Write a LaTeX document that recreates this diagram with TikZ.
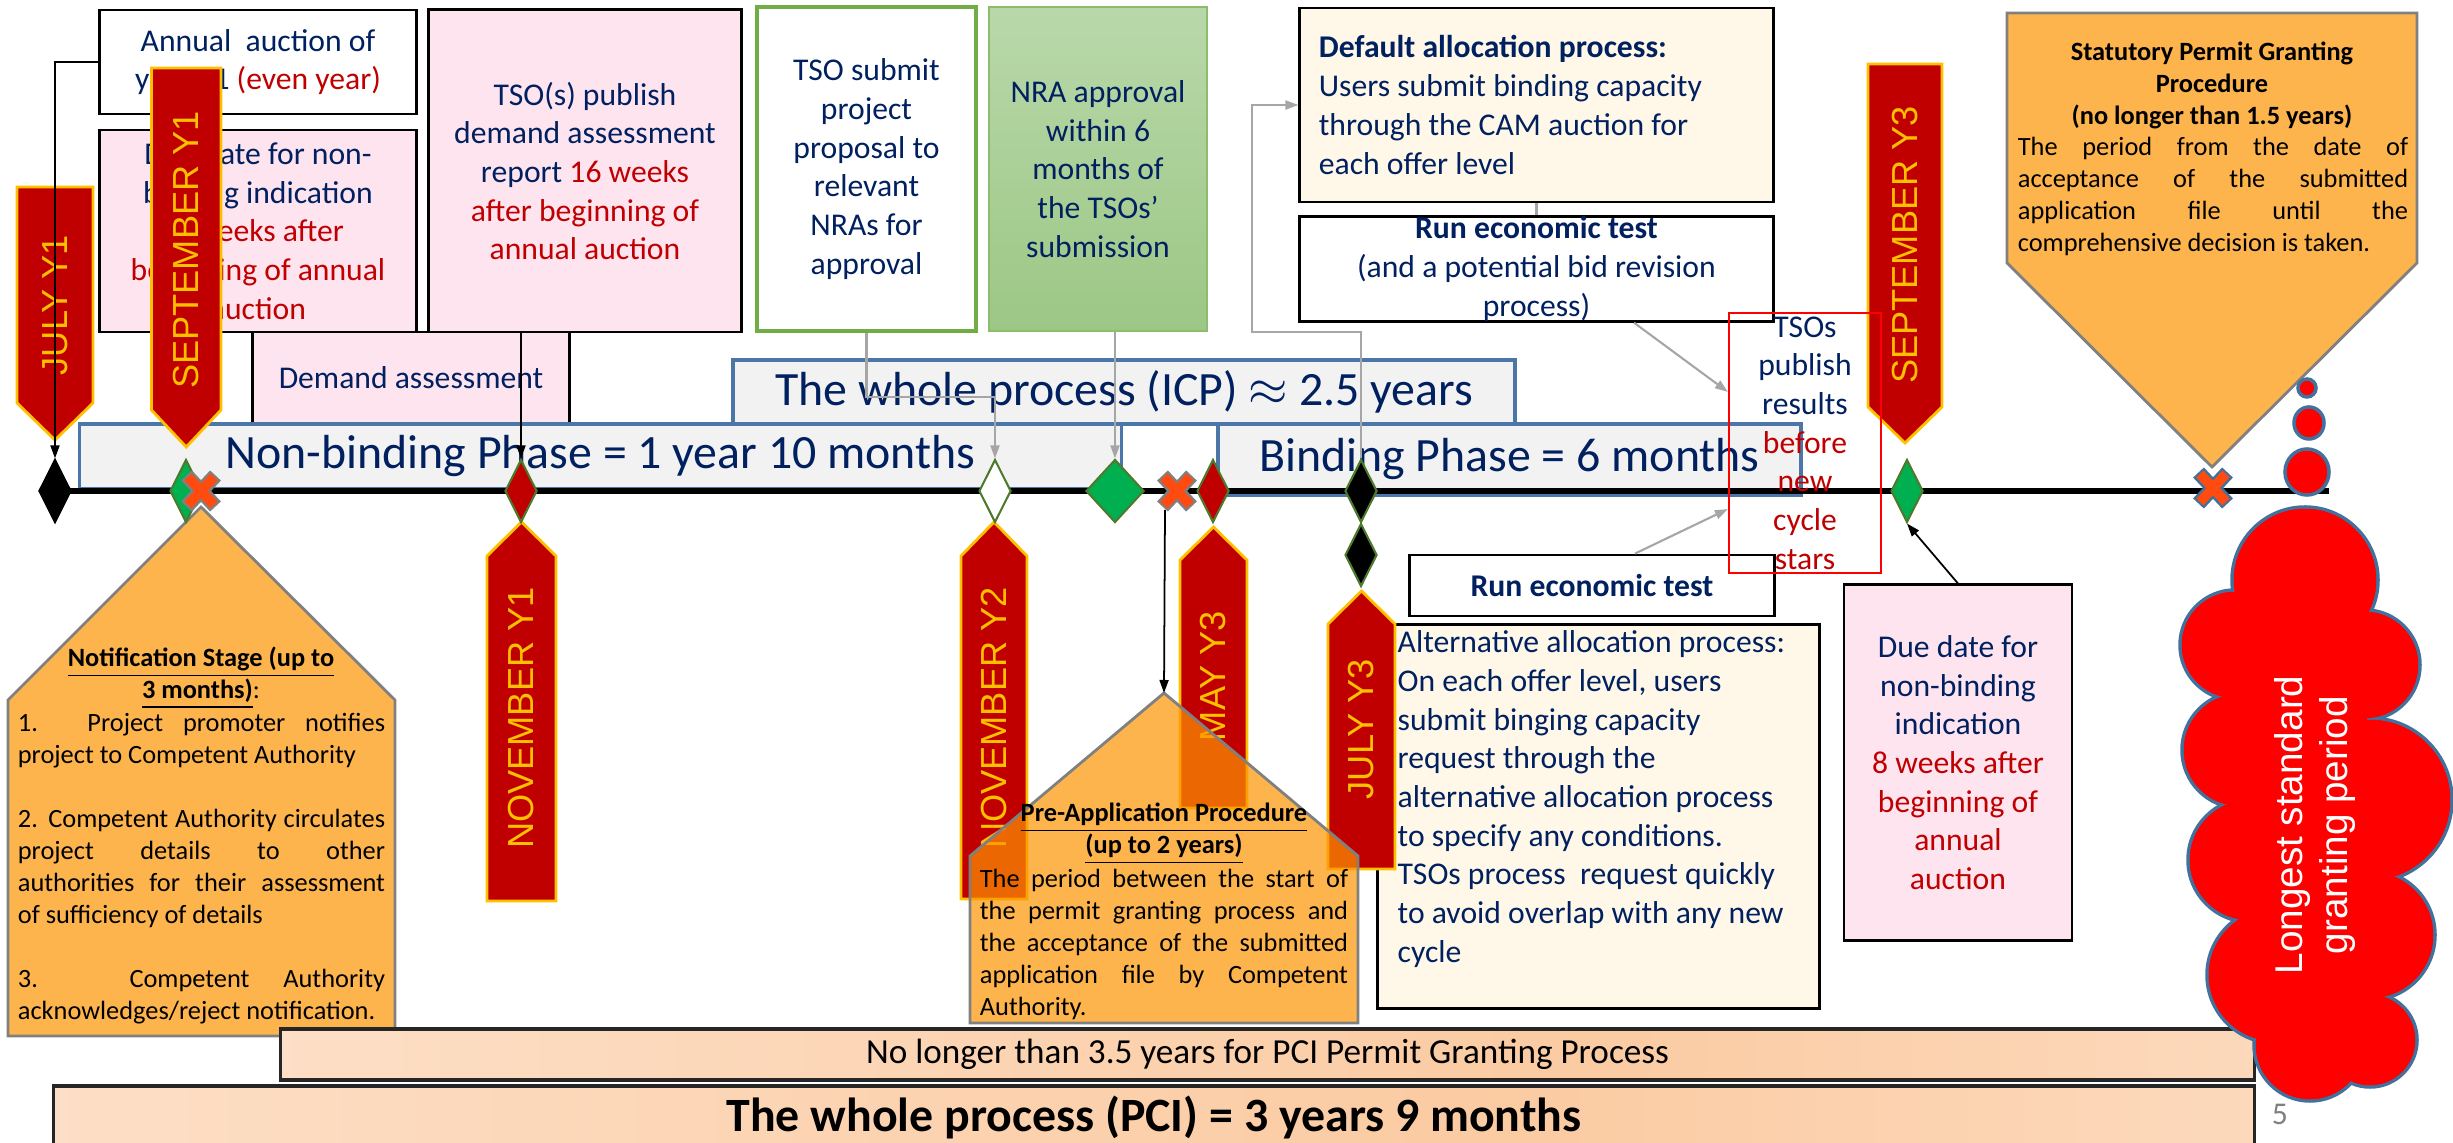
\documentclass[tikz,border=0pt]{standalone}
\usepackage{fontspec}
\setmainfont{Carlito}
\newfontfamily\bannerfont{Liberation Sans}
\usetikzlibrary{arrows.meta}
\usetikzlibrary{shapes.geometric}

\definecolor{dkblue}{HTML}{002060}
\definecolor{dkred}{HTML}{C00000}
\definecolor{ppink}{HTML}{FDE4EF}
\definecolor{cream}{HTML}{FFF8E8}
\definecolor{barfill}{HTML}{F2F2F2}
\definecolor{barline}{HTML}{4A76A8}
\definecolor{okgreen}{HTML}{70AD47}
\definecolor{nraA}{HTML}{B9D8AA}
\definecolor{nraB}{HTML}{9CC785}
\definecolor{mkgreen}{HTML}{00B050}
\definecolor{dmline}{HTML}{4E7A2E}
\definecolor{gold}{HTML}{FFC000}
\definecolor{pentfill}{HTML}{FC9402}
\definecolor{xorange}{HTML}{FF4A10}
\definecolor{peachL}{HTML}{FEEDE1}
\definecolor{peachD}{HTML}{FBCBA2}
\definecolor{bubblue}{HTML}{41719C}

\pgfdeclarehorizontalshading{peachshade}{100bp}{color(0bp)=(peachL); color(58bp)=(peachD); color(100bp)=(peachL)}

% justified / left lines for the orange boxes
\newcommand{\jline}[1]{\hbox to \hsize{#1}}
\newcommand{\lline}[1]{\hbox to \hsize{#1\hfil}}
\newcommand{\pbody}[2]{\vbox{\hsize=#1\relax #2}}

\begin{document}
\begin{tikzpicture}[x=0.01cm,y=-0.01cm,
  box/.style={draw=black,line width=0.8pt,inner sep=0pt,align=center,text=dkblue,font=\fontsize{9}{11}\selectfont},
  pinkbox/.style={box,fill=ppink},
  phase/.style={draw=barline,line width=1pt,fill=barfill,inner sep=0pt,text=dkblue,font=\fontsize{13.6}{16}\selectfont},
  pci/.style={draw=black!85,line width=1pt,shade,shading=peachshade,inner sep=0pt,text=black},
  pent/.style={fill=pentfill,fill opacity=0.7,draw=gray,line width=0.8pt},
  ptxt/.style={inner sep=0pt,text=black,font=\fontsize{7.5}{9.1}\selectfont},
  mtext/.style={inner sep=0pt,rotate=90,text=gold,font=\bannerfont\fontsize{10.3}{12}\selectfont},
  dm/.style={diamond,inner sep=0pt,minimum width=0.32cm,minimum height=0.63cm,draw=dmline,line width=0.6pt},
  blk/.style={-{Triangle[length=0.13cm,width=0.09cm]},black,line width=0.5pt},
  gry/.style={-{Triangle[length=0.13cm,width=0.09cm]},black!35,line width=0.6pt},
  xedge/.style={draw=black!50},
  xmark/.pic={
    \draw[xedge,line width=4.2pt] (-14.5,-15.5) -- (14.5,15.5) (-14.5,15.5) -- (14.5,-15.5);
    \draw[xorange,line width=2.8pt] (-13,-14) -- (13,14) (-13,14) -- (13,-14);
  }]
\tikzstyle{banner}=[fill=dkred,draw=gold,line width=0.8pt]
\useasboundingbox (0,0) rectangle (2453,1143);

% boxes on top
\node[box,fill=white,minimum width=3.175cm,minimum height=1.04cm] (annual) at (258,62) {Annual~ auction of\\year Y1 \textcolor{dkred}{(even year)}};
\node[pinkbox,minimum width=3.175cm,minimum height=2.02cm] (due_1) at (258,231) {Due date for non-\\binding indication\\\textcolor{dkred}{8 weeks after}\\\textcolor{dkred}{beginning of annual}\\\textcolor{dkred}{auction}};
\node[pinkbox,minimum width=3.125cm,minimum height=3.22cm] (tso_pub) at (585,171) {TSO(s) publish\\demand assessment\\report \textcolor{dkred}{16 weeks}\\\textcolor{dkred}{after beginning of}\\\textcolor{dkred}{annual auction}};
\node[pinkbox,minimum width=3.175cm,minimum height=0.91cm] (demand) at (411,377.5) {Demand assessment};
\node[box,draw=okgreen,line width=1.2pt,fill=white,minimum width=2.19cm,minimum height=3.24cm] (tso_sub) at (866.5,169) {TSO submit\\project\\proposal to\\relevant\\NRAs for\\approval};
\node[box,draw=okgreen!80,line width=0.5pt,top color=nraA,bottom color=nraB,minimum width=2.18cm,minimum height=3.24cm] (nra) at (1098,169) {NRA approval\\within 6\\months of\\the TSOs’\\submission};
\node[box,fill=cream,minimum width=4.73cm,minimum height=1.94cm,text width=4.35cm,align=flush left] (default) at (1536.5,105) {\textbf{Default allocation process:}\\Users submit binding capacity\\through the CAM auction for\\each offer level};
\node[box,fill=white,minimum width=4.73cm,minimum height=1.04cm] (run_1) at (1536.5,269) {\textbf{Run economic test}\\(and a potential bid revision\\process)};

% boxes below the line
\node[box,fill=cream,minimum width=4.41cm,minimum height=3.83cm] (alt) at (1598.5,816.5) {};
\node[text=dkblue,font=\fontsize{9}{11}\selectfont,align=left,anchor=west,inner sep=0pt] (alt_txt) at (1397,799) {Alternative allocation process:\\On each offer level, users\\submit binging capacity\\request through the\\alternative allocation process\\to specify any conditions.\\TSOs process~ request quickly\\to avoid overlap with any new\\cycle};
\node[box,fill=white,minimum width=3.64cm,minimum height=0.61cm] (run_2) at (1592,585.5) {\textbf{Run economic test}};
\node[pinkbox,minimum width=2.28cm,minimum height=3.55cm] (due_2) at (1958,762.5) {Due date for\\non-binding\\indication\\\textcolor{dkred}{8 weeks after}\\\textcolor{dkred}{beginning of}\\\textcolor{dkred}{annual}\\\textcolor{dkred}{auction}};

% phases
\node[phase,minimum width=7.82cm,minimum height=0.64cm] (icp) at (1124,392) {The whole process (ICP) $\approx$ 2.5 years};
\node[phase,minimum width=10.41cm,minimum height=0.65cm] (nonbind) at (600.5,456.5) {Non-binding Phase = 1 year 10 months};
\node[phase,minimum width=5.83cm,minimum height=0.71cm] (bind) at (1509.5,459.5) {Binding Phase = 6 months};

% time line
\coordinate (t_0) at (55,491);
\coordinate (t_1) at (2329,491);
\draw[line width=1.5pt] (t_0) -- (t_1);

% orange stages
\path[pent] (2007,13) -- (2417,13) -- (2417,263) -- (2212,467) -- (2007,263) -- cycle;
\node[ptxt,align=center] (stat_head) at (2212,85) {\textbf{Statutory Permit Granting}\\\textbf{Procedure}\\\textbf{(no longer than 1.5 years)}};
\node[ptxt] (stat_body) at (2213,196.5) {\pbody{3.9cm}{\jline{The period from the date of}\jline{acceptance of the submitted}\jline{application file until the}\lline{comprehensive decision is taken.}}};
\path[pent] (8,700) -- (201,507) -- (395,700) -- (395,1036) -- (8,1036) -- cycle;
\node[ptxt,align=center] (note_head) at (201,678) {\underline{\textbf{Notification Stage (up to}}\\\underline{\textbf{3 months)}}:};
\node[ptxt] (note_body) at (201.5,869) {\pbody{3.67cm}{\jline{1. Project promoter notifies}\lline{project to Competent Authority}\lline{}\jline{2. Competent Authority circulates}\jline{project details to other}\jline{authorities for their assessment}\lline{of sufficiency of details}\lline{}\jline{3. Competent Authority}\lline{acknowledges/reject notification.}}};

% month banners
\foreach \xa/\xb/\ya/\yb/\yc/\ty/\lab/\nm in {17/93/187/403/440/305/JULY Y1/m_jul1,
    151.5/221/68/410/447/250/SEPTEMBER Y1/m_sep1, 1868/1942/64/407/443/245/SEPTEMBER Y3/m_sep3}{
  \draw[banner] (\xa,\ya) -- (\xb,\ya) -- (\xb,\yb) -- ({(\xa+\xb)/2},\yc) -- (\xa,\yb) -- cycle;
  \node[mtext] (\nm) at ({(\xa+\xb)/2},\ty) {\lab};
}
\foreach \xa/\xb/\ya/\yb/\yc/\ty/\lab/\nm in {487/556/522/556/901/718/NOVEMBER Y1/m_nov1,
    961/1027/522/556/899/718/NOVEMBER Y2/m_nov2, 1180/1247/527/560/808/676/MAY Y3/m_may3,
    1328/1395/591/624/869/729/JULY Y3/m_jul3}{
  \draw[banner] (\xa,\yc) -- (\xa,\yb) -- ({(\xa+\xb)/2},\ya) -- (\xb,\yb) -- (\xb,\yc) -- cycle;
  \node[mtext] (\nm) at ({(\xa+\xb)/2},\ty) {\lab};
}

% milestones
\node[dm,fill=black,draw=black] (d_0) at (55,491) {};
\node[dm,fill=mkgreen] (d_1) at (186,491) {};
\node[dm,fill=dkred] (d_2) at (521,491) {};
\node[dm,fill=white] (d_3) at (995,491) {};
\node[dm,fill=mkgreen,minimum width=0.58cm] (d_4) at (1115,491) {};
\node[dm,fill=dkred] (d_5) at (1213,491) {};
\node[dm,fill=black] (d_6) at (1361,491) {};
\node[dm,fill=black] (d_7) at (1361,555) {};
\node[dm,fill=mkgreen] (d_8) at (1907,491) {};
\pic at (201,491) {xmark};
\pic at (1177,491) {xmark};
\pic[xedge/.style={draw=bubblue}] at (2213,488) {xmark};
\coordinate (x_2) at (1165,510);

% pre-application stage
\path[pent] (970,856) -- (1164,693) -- (1358,856) -- (1358,1023) -- (970,1023) -- cycle;
\coordinate (pre_top) at (1164,693);
\node[ptxt,align=center] (pre_head) at (1164,834) {\underline{\textbf{Pre-Application Procedure}}\\\underline{\textbf{(up to 2 years)}}};
\node[ptxt] (pre_body) at (1164,944.5) {\pbody{3.68cm}{\jline{The period between the start of}\jline{the permit granting process and}\jline{the acceptance of the submitted}\jline{application file by Competent}\lline{Authority.}}};

\node[draw=red,line width=0.6pt,minimum width=1.52cm,minimum height=2.6cm,inner sep=0pt,align=center,text=dkblue,font=\fontsize{9}{11}\selectfont] (tsos) at (1805,443) {TSOs\\publish\\results\\\textcolor{dkred}{before}\\\textcolor{dkred}{new}\\\textcolor{dkred}{cycle}\\\textcolor{dkred}{stars}};

% connectors
\draw[blk] (annual.west) -| (d_0.north);
\draw[blk] (d_2 |- tso_pub.south) -- (d_2.north);
\draw[gry] (tso_sub.south) -- ++(0,64) -| (d_3.north);
\draw[gry] (d_4 |- nra.south) -- (d_4.north);
\draw[gry] (d_6.north) |- (1252,332) |- (default.west);
\draw[black!35,line width=0.6pt] (default.south) -- (run_1.north);
\draw[gry] ([xshift=0.975cm]run_1.south) -- ([yshift=0.51cm]tsos.west);
\draw[gry] ([xshift=0.43cm]run_2.north) -- ([yshift=-0.66cm]tsos.west);
\draw[blk] (due_2.north) -- (d_8.south);
\draw[blk] (x_2) -- (pre_top);

% bottom bars
\node[pci,minimum width=19.73cm,minimum height=0.51cm,font=\fontsize{10}{12}\selectfont] (bar_35) at (1267.5,1054.5) {No longer than 3.5 years for PCI Permit Granting Process};
\node[pci,minimum width=22cm,minimum height=0.64cm,font=\bfseries\fontsize{13.6}{16}\selectfont] (bar_pci) at (1154,1118) {The whole process (PCI) = 3 years 9 months};

% thought bubbles and cloud
\draw[fill=red,draw=bubblue,line width=1pt] (2307,388) circle[radius=0.09cm];
\draw[fill=red,draw=bubblue,line width=1pt] (2309,423) ellipse[x radius=0.15cm,y radius=0.16cm];
\draw[fill=red,draw=bubblue,line width=1pt] (2307,472) ellipse[x radius=0.22cm,y radius=0.23cm];
\foreach \cx/\cy/\r in {2305/580/73, 2235/645/55, 2365/665/55, 2240/750/58, 2370/800/82,
    2250/860/62, 2370/935/65, 2275/975/68, 2310/1045/56, 2370/1040/47}
  \draw[fill=red,draw=bubblue,line width=1pt] (\cx,\cy) circle[radius=\r*0.01cm];
\fill[red] (2305,580) -- (2365,665) -- (2370,800) -- (2370,935) -- (2370,1040) -- (2310,1045)
  -- (2275,975) -- (2250,860) -- (2240,750) -- (2235,645) -- cycle;
\foreach \cx/\cy/\r in {2305/580/73, 2235/645/55, 2365/665/55, 2240/750/58, 2370/800/82,
    2250/860/62, 2370/935/65, 2275/975/68, 2310/1045/56, 2370/1040/47}
  \fill[red] (\cx,\cy) circle[radius=\r*0.01cm-0.5pt];
\node[rotate=90,text=white,align=center,font=\bannerfont\fontsize{11}{13}\selectfont] (cloud_txt) at (2315,825) {Longest standard\\granting period};
\node[text=black!50,font=\fontsize{9}{11}\selectfont] (page) at (2280,1114) {5};
\end{tikzpicture}
\end{document}
